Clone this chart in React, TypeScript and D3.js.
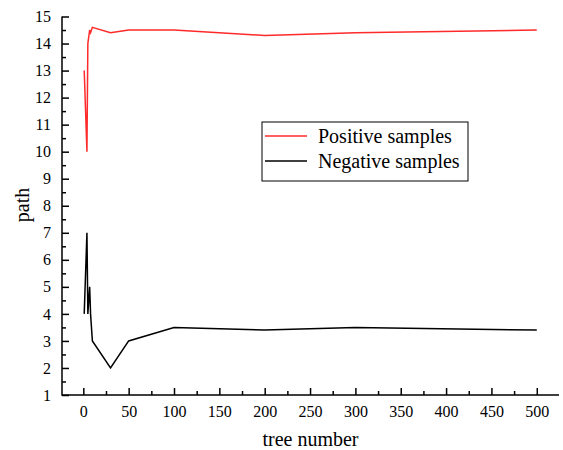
import * as d3 from 'd3';
import { useEffect, useRef } from 'react';

const posX = [1, 4, 5, 7, 8, 10, 30, 50, 100, 200, 300, 500];
const posY = [13, 10, 14, 14.5, 14.4, 14.6, 14.4, 14.5, 14.5, 14.3, 14.4, 14.5];
const negX = [1, 4, 5, 7, 8, 10, 30, 50, 100, 200, 300, 500];
const negY = [4, 7, 4, 5, 4, 3, 2, 3, 3.5, 3.4, 3.5, 3.4];
const xTicks = d3.range(0, 501, 50);
const xMinor = d3.range(25, 525, 50);
const yTicks = d3.range(1, 16, 1);
const yMinor = d3.range(1.5, 15, 1);
const seriesNames = ['Positive samples', 'Negative samples'];
const seriesColors = ['#ff2a2a', '#000000'];

const App = () => {
  const svgRef = useRef<SVGSVGElement>(null);

  useEffect(() => {
    const width = 563;
    const height = 450;
    const left = 62;
    const right = 559;
    const top = 16.5;
    const bottom = 395;
    const font = "'Liberation Serif', 'Times New Roman', serif";

    const svg = d3.select(svgRef.current);
    svg.selectAll('*').remove();
    svg.attr('width', width).attr('height', height);

    const x = d3.scaleLinear([-23.5, 524.5], [left, right]);
    const y = d3.scaleLinear([1, 15], [bottom, top]);

    const styleAxis = (g) => {
      g.selectAll('.domain').remove();
      g.selectAll('.tick line').attr('stroke', '#000').attr('stroke-width', 1.5);
      g.selectAll('.tick text')
        .attr('font-family', null)
        .attr('font-size', null)
        .style('font-family', font)
        .style('font-size', '16px')
        .attr('fill', '#000');
    };

    // minor ticks
    svg.append('g')
      .attr('transform', `translate(0,${bottom})`)
      .call(d3.axisBottom(x).tickValues(xMinor).tickFormat(() => '').tickSize(-4))
      .call(styleAxis);
    svg.append('g')
      .attr('transform', `translate(${left},0)`)
      .call(d3.axisLeft(y).tickValues(yMinor).tickFormat(() => '').tickSize(-4))
      .call(styleAxis);

    // major ticks
    svg.append('g')
      .attr('transform', `translate(0,${bottom})`)
      .call(d3.axisBottom(x).tickValues(xTicks).tickSize(-7).tickPadding(11))
      .call(styleAxis);
    svg.append('g')
      .attr('transform', `translate(${left},0)`)
      .call(d3.axisLeft(y).tickValues(yTicks).tickSize(-7).tickPadding(11))
      .call(styleAxis);

    // axis lines
    svg.append('path')
      .attr('fill', 'none')
      .attr('stroke', '#000')
      .attr('stroke-width', 1.5)
      .attr('d', `M ${left} ${top} V ${bottom} H ${right}`);

    const drawSeries = (xs, ys, color) => {
      const l = d3.line<number>()
        .x((i) => x(xs[i]))
        .y((i) => y(ys[i]));
      svg.append('path')
        .attr('fill', 'none')
        .attr('stroke', color)
        .attr('stroke-width', 1.5)
        .attr('d', l(d3.range(xs.length)));
    };
    drawSeries(posX, posY, seriesColors[0]);
    drawSeries(negX, negY, seriesColors[1]);

    // axis titles
    svg.append('text')
      .attr('x', (left + right) / 2)
      .attr('y', 446)
      .attr('text-anchor', 'middle')
      .style('font-family', font)
      .style('font-size', '20px')
      .text('tree number');
    svg.append('text')
      .attr('transform', 'translate(29,205) rotate(-90)')
      .attr('text-anchor', 'middle')
      .style('font-family', font)
      .style('font-size', '20px')
      .text('path');

    // legend
    const lg = svg.append('g').attr('transform', 'translate(262,122)');
    lg.append('rect')
      .attr('width', 206)
      .attr('height', 59)
      .attr('fill', '#fff')
      .attr('stroke', '#000')
      .attr('stroke-width', 1);
    seriesNames.forEach((name, i) => {
      const cy = 14 + i * 25;
      lg.append('line')
        .attr('x1', 3).attr('x2', 45)
        .attr('y1', cy).attr('y2', cy)
        .attr('stroke', seriesColors[i])
        .attr('stroke-width', 1.5);
      lg.append('text')
        .attr('x', 56)
        .attr('y', cy)
        .attr('dy', '0.35em')
        .style('font-family', font)
        .style('font-size', '20px')
        .text(name);
    });
  }, []);

  return <svg ref={svgRef} style={{ position: 'absolute', left: 0, top: 0 }} />;
};

export default App;
